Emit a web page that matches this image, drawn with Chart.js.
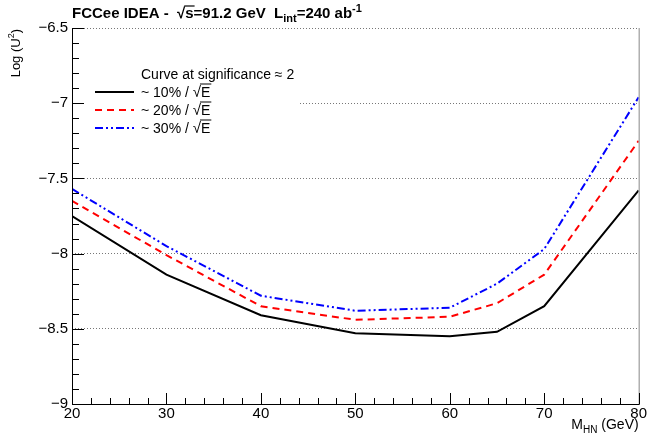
<!DOCTYPE html>
<html>
<head>
<meta charset="utf-8">
<script src="https://cdn.jsdelivr.net/npm/chart.js@4.4.1/dist/chart.umd.min.js"></script>
<style>
  body { margin: 0; background: #fff; }
  #wrap { width: 648px; height: 436px; }
</style>
</head>
<body>
<div id="wrap"><canvas id="chart" width="648" height="436"></canvas></div>
<script>
// values
const massPoints = [20, 30, 40, 50, 60, 65, 70, 80];
const res10 = [-7.75, -8.14, -8.41, -8.53, -8.55, -8.52, -8.35, -7.58];
const res20 = [-7.65, -8.01, -8.35, -8.44, -8.42, -8.33, -8.14, -7.25];
const res30 = [-7.57, -7.95, -8.28, -8.38, -8.36, -8.20, -7.97, -6.96];
const seriesLabels = ['~ 10% / √E', '~ 20% / √E', '~ 30% / √E'];
const legendHeader = 'Curve at significance ≈ 2';
const xTicks = [20, 30, 40, 50, 60, 70, 80];
const yTicks = [-9, -8.5, -8, -7.5, -7, -6.5];

const FONT = '"Liberation Sans", Arial, sans-serif';

function pts(ys) {
    return massPoints.map((m, i) => ({ x: m, y: ys[i] }));
}

// draw a run of text pieces, each with own size / vertical shift
function drawRich(ctx, x, y, parts, weight) {
    parts.forEach(p => {
        ctx.font = `${weight} ${p.size}px ${FONT}`;
        ctx.fillText(p.t, x, y + (p.dy || 0));
        const w = ctx.measureText(p.t).width;
        if (p.over) {
            ctx.beginPath();
            ctx.moveTo(x - 1, y - p.over);
            ctx.lineTo(x + w + 1, y - p.over);
            ctx.stroke();
        }
        x += w;
    });
    return x;
}

function richWidth(ctx, parts, weight) {
    let w = 0;
    parts.forEach(p => {
        ctx.font = `${weight} ${p.size}px ${FONT}`;
        w += ctx.measureText(p.t).width;
    });
    return w;
}

const rootFrame = {
    id: 'rootFrame',
    beforeDatasetsDraw(chart) {
        // legend box hides the grid behind it
        const ctx = chart.ctx;
        ctx.save();
        ctx.fillStyle = '#fff';
        ctx.fillRect(74, 60, 226, 78);
        ctx.restore();
    },
    afterDraw(chart) {
        const { ctx, chartArea: a, scales: { x, y } } = chart;
        ctx.save();

        // right frame edge
        ctx.strokeStyle = '#888';
        ctx.lineWidth = 1;
        ctx.beginPath();
        ctx.moveTo(a.right + 0.5, a.top);
        ctx.lineTo(a.right + 0.5, a.bottom);
        ctx.stroke();

        // axes
        ctx.strokeStyle = '#000';
        ctx.beginPath();
        ctx.moveTo(a.left + 0.5, a.top);
        ctx.lineTo(a.left + 0.5, a.bottom + 0.5);
        ctx.lineTo(a.right + 1, a.bottom + 0.5);
        ctx.stroke();

        // inward ticks
        ctx.beginPath();
        for (let i = 0; i <= 25; i++) {
            const v = -9 + i * 0.1;
            const py = Math.round(y.getPixelForValue(v)) + 0.5;
            const len = i % 5 === 0 ? 12 : 7;
            ctx.moveTo(a.left, py);
            ctx.lineTo(a.left + len, py);
        }
        for (let i = 0; i <= 30; i++) {
            const v = 20 + i * 2;
            const px = Math.round(x.getPixelForValue(v)) + 0.5;
            const len = i % 5 === 0 ? 11 : 6;
            ctx.moveTo(px, a.bottom);
            ctx.lineTo(px, a.bottom - len);
        }
        ctx.stroke();

        // title
        ctx.fillStyle = '#000';
        ctx.strokeStyle = '#000';
        ctx.lineWidth = 1.2;
        ctx.textAlign = 'left';
        ctx.textBaseline = 'alphabetic';
        drawRich(ctx, a.left, 18, [
            { t: 'FCCee IDEA -  ', size: 15 },
            { t: '√', size: 15 },
            { t: 's', size: 15, over: 12 },
            { t: '=91.2 GeV  L', size: 15 },
            { t: 'int', size: 11, dy: 4 },
            { t: '=240 ab', size: 15 },
            { t: '-1', size: 11, dy: -6 }
        ], 'bold');

        // y title
        ctx.save();
        ctx.translate(20, 29);
        ctx.rotate(-Math.PI / 2);
        const yParts = [{ t: 'Log (U', size: 13 }, { t: '2', size: 9, dy: -6 }, { t: ')', size: 13 }];
        const yw = richWidth(ctx, yParts, 'normal');
        drawRich(ctx, -yw, 0, yParts, 'normal');
        ctx.restore();

        // x title
        const xParts = [{ t: 'M', size: 14 }, { t: 'HN', size: 10, dy: 4 }, { t: ' (GeV)', size: 14 }];
        const xw = richWidth(ctx, xParts, 'normal');
        drawRich(ctx, a.right - xw, 429, xParts, 'normal');

        // legend
        ctx.font = `14px ${FONT}`;
        ctx.fillText(legendHeader, 141, 79);
        chart.data.datasets.forEach((ds, i) => {
            const ly = 92 + i * 18;
            ctx.save();
            ctx.strokeStyle = ds.borderColor;
            ctx.lineWidth = ds.borderWidth;
            ctx.setLineDash(ds.borderDash || []);
            ctx.beginPath();
            ctx.moveTo(95, ly);
            ctx.lineTo(134, ly);
            ctx.stroke();
            ctx.restore();
            ctx.lineWidth = 1;
            const label = ds.label.replace('√E', '');
            drawRich(ctx, 141, ly + 5, [
                { t: label, size: 14 },
                { t: '√', size: 15 },
                { t: 'E', size: 14, over: 13 }
            ], 'normal');
        });

        ctx.restore();
    }
};

new Chart(document.getElementById('chart'), {
    type: 'line',
    data: {
        datasets: [
            {
                label: seriesLabels[0],
                data: pts(res10),
                borderColor: '#000000',
                borderWidth: 2,
                borderDash: []
            },
            {
                label: seriesLabels[1],
                data: pts(res20),
                borderColor: '#ff0000',
                borderWidth: 2,
                borderDash: [7, 5]
            },
            {
                label: seriesLabels[2],
                data: pts(res30),
                borderColor: '#0000ff',
                borderWidth: 2,
                borderDash: [8, 3, 2, 3, 2, 3]
            }
        ]
    },
    options: {
        responsive: false,
        animation: false,
        layout: { padding: { top: 28, right: 8, left: 0, bottom: 0 } },
        elements: {
            point: { radius: 0 },
            line: { tension: 0, fill: false }
        },
        plugins: {
            legend: { display: false },
            tooltip: { enabled: false }
        },
        scales: {
            x: {
                type: 'linear',
                min: 20,
                max: 80,
                afterBuildTicks: s => { s.ticks = xTicks.map(v => ({ value: v })); },
                afterFit: s => { s.height = 32; },
                ticks: {
                    autoSkip: false,
                    maxRotation: 0,
                    padding: 1,
                    color: '#000',
                    font: { family: FONT, size: 15 }
                },
                grid: { display: false, drawTicks: false },
                border: { display: false }
            },
            y: {
                min: -9,
                max: -6.5,
                afterBuildTicks: s => { s.ticks = yTicks.map(v => ({ value: v })); },
                afterFit: s => { s.width = 72; },
                ticks: {
                    autoSkip: false,
                    padding: 4,
                    color: '#000',
                    font: { family: FONT, size: 15 },
                    callback: v => String(Math.round(v * 10) / 10).replace('-', '−')
                },
                grid: { color: '#777', lineWidth: 1, drawTicks: false },
                border: { display: false, dash: [1, 2] }
            }
        }
    },
    plugins: [rootFrame]
});
</script>
</body>
</html>
